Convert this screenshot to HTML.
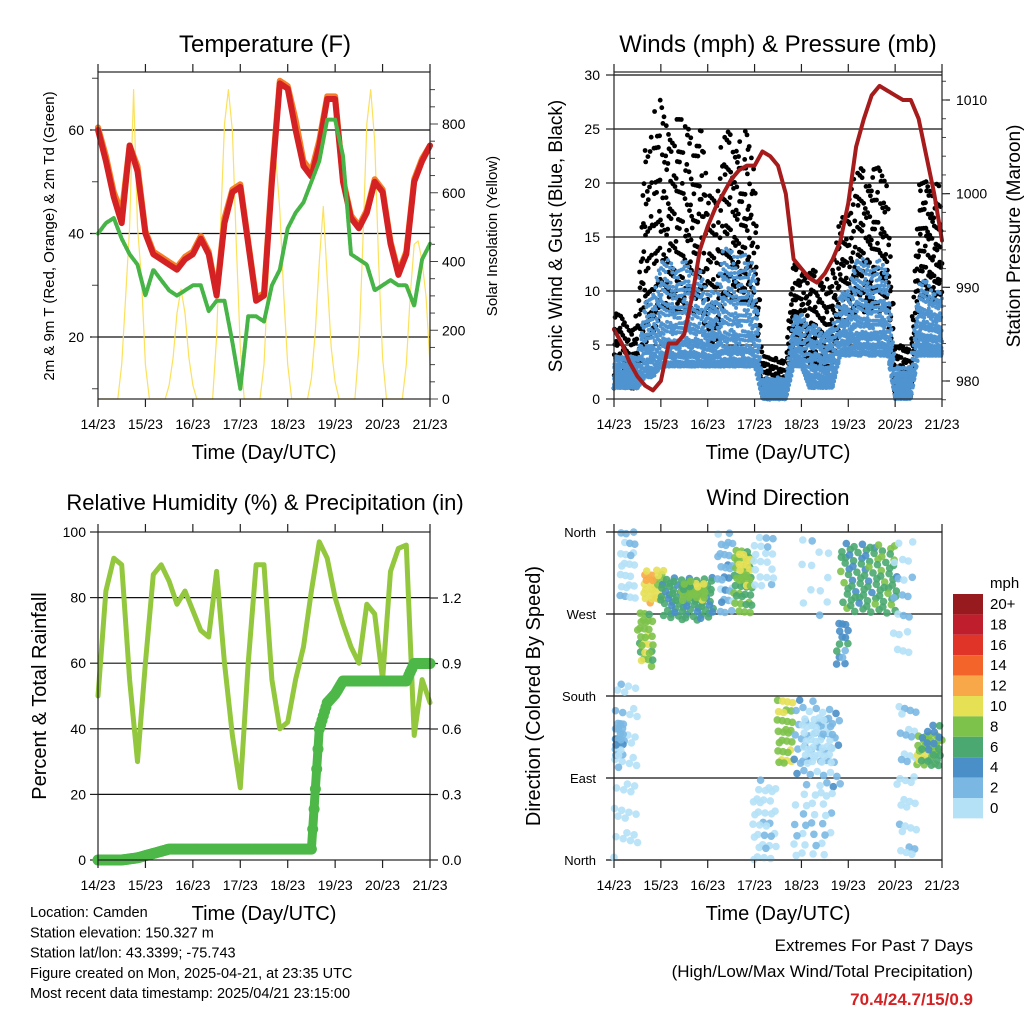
<!DOCTYPE html>
<html><head><meta charset="utf-8"><style>
html,body{margin:0;padding:0;background:#fff;}
svg{display:block;font-family:"Liberation Sans",sans-serif;}
</style></head><body>
<svg id="c" width="1024" height="1024" viewBox="0 0 1024 1024"></svg>
<script>
// ---------- DATA (4-hour resolution, 43 points from 14/23 to 21/23) ----------
const dayLabels = ["14/23","15/23","16/23","17/23","18/23","19/23","20/23","21/23"];
const tempRed = [60,54,47,42,57,52,40,36,35,34,33,35,36,39,36,28,42,48,49,38,27,28,50,69,68,60,53,51,57,66,66,50,43,41,44,50,48,38,32,36,50,54,57];
const tempOrange = [60.5,55,48,44,57,53,40.5,36.5,35.5,34.5,33.5,35.5,36.5,39.5,36.5,28.5,43,48.5,49.5,38.5,27.5,28.5,51,69.5,68.5,62,54,52,58,66.5,66.5,50.5,43.5,41.5,44.5,50.5,48.5,38.5,32.5,36.5,50.5,54.5,57];
const dewGreen = [40,42,43,39,36,34,28,33,31,29,28,29,30,30,25,27,27,19,10,24,24,23,30,33,41,44,46,50,54,62,62,55,36,35,34,29,30,31,30,30,26,35,38];
// solar insolation, 2-hourly, per day offsets +10h..+26h
const solarDays = [
 [0,100,300,500,900,500,350,100,0],
 [0,40,120,250,320,250,120,40,0],
 [0,180,500,800,900,780,450,150,0],
 [0,100,350,600,700,550,300,100,0],
 [0,60,200,400,560,350,150,50,0],
 [0,150,450,800,900,750,400,120,0],
 [0,100,300,450,460,400,300,100]
];
const pressure = [985.5,984,982,980.5,979.5,979,980,984,984,985,989,994,996.5,998.5,1000,1001.5,1002.5,1003,1003,1004.5,1004,1003,1000,993,992,991,990.5,991.5,993,995,999,1005,1008,1010.5,1011.5,1011,1010.5,1010,1010,1008,1004,1000,995];
const windLo = [1,1,1,1,2,2,3,3,3,3,3,3,3,3,3,3,3,3,3,0,0,0,0,3,3,1,1,1,1,4,4,4,4,4,4,4,0,0,0,4,4,4,4];
const windHi = [4,4,4,4,9,10,13,13,12,13,12,12,10,10,14,14,13,14,12,2,2,2,2,8,8,7,7,6,7,10,10,13,13,12,13,12,3,3,3,11,11,10,10];
const gustLo = [1,1,1,1,5,6,8,8,8,8,8,8,5,5,9,9,9,9,8,0,0,0,0,5,5,3,3,3,3,7,7,8,8,8,8,8,0,0,0,9,9,9,9];
const gustHi = [8,8,7,8,24,27,28,26,26,27,25,26,20,20,25,25,24,25,22,4,4,4,4,13,13,12,12,11,12,18,18,22,22,21,22,21,5,5,5,20,21,20,20];
const rh = [50,82,92,90,55,30,60,87,90,85,78,82,76,70,68,88,60,38,22,60,90,90,55,40,42,55,65,82,97,92,80,72,65,60,78,75,55,88,95,96,38,55,48];
const precip = [0,0,0,0,0.005,0.01,0.02,0.03,0.04,0.05,0.05,0.05,0.05,0.05,0.05,0.05,0.05,0.05,0.05,0.05,0.05,0.05,0.05,0.05,0.05,0.05,0.05,0.05,0.6,0.72,0.76,0.82,0.82,0.82,0.82,0.82,0.82,0.82,0.82,0.82,0.9,0.9,0.9];
// wind-direction clusters: [hourStart, hourEnd, dirLow, dirHigh, speedMph, dotCount]
const dirClusters = [
 [0,13,3,195,1,40],[0,5,110,150,3,20],[3,12,278,360,1.5,25],
 [12,20,212,271,9,30],[15,27,282,318,11,30],[24,51,263,310,6.5,80],[34,48,285,306,9,25],
 [53,61,271,359,3,30],[61,71,271,340,8,40],[63,70,300,340,10.5,15],
 [71,83,300,360,1,20],[71,83,0,88,1,35],[83,92,106,183,9.5,30],[92,116,80,176,3,50],
 [95,112,106,161,1,40],[92,112,3,80,1.5,30],[95,112,263,359,1,12],
 [114,120,212,263,5,15],[116,145,271,348,7,90],[143,153,220,359,1.5,20],[145,155,0,179,1.5,35],
 [155,168,102,139,9,30],[156,168,105,150,6,15]
];
const speedColors = ["#b5e1f7","#7ab8e3","#4a8fc8","#4aa870","#7dc24a","#e6e055","#f8a848","#f26429","#e03428","#bf1e2d","#971b1e"];
const speedLabels = ["0","2","4","6","8","10","12","14","16","18","20+"];

// ---------- helpers ----------
const NS="http://www.w3.org/2000/svg";
const svg=document.getElementById('c');
function el(tag, parent){const e=document.createElementNS(NS,tag);(parent||svg).appendChild(e);return e;}
function txt(s,x,y,size,anchor,name,extra){
  const t=el('text');t.textContent=s;t.setAttribute('x',x);t.setAttribute('y',y);
  t.setAttribute('font-size',size);t.setAttribute('text-anchor',anchor||'middle');
  if(extra){for(const k in extra)t.setAttribute(k,extra[k]);}
  
  
  return t;}
function line(x1,y1,x2,y2,stroke,w,name){
  const l=el('line');l.setAttribute('x1',x1);l.setAttribute('y1',y1);l.setAttribute('x2',x2);l.setAttribute('y2',y2);
  l.setAttribute('stroke',stroke);l.setAttribute('stroke-width',w);
  
  
  return l;}
function dot(x,y,r,fill,name,op){
  const c=el('circle');c.setAttribute('cx',x.toFixed(1));c.setAttribute('cy',y.toFixed(1));c.setAttribute('r',r);c.setAttribute('fill',fill);
  if(op)c.setAttribute('fill-opacity',op);
  
  
  return c;}
function poly(pts,stroke,w,name){
  const p=el('polyline');p.setAttribute('points',pts.map(q=>q[0].toFixed(1)+','+q[1].toFixed(1)).join(' '));
  p.setAttribute('fill','none');p.setAttribute('stroke',stroke);p.setAttribute('stroke-width',w);
  p.setAttribute('stroke-linejoin','round');p.setAttribute('stroke-linecap','round');
  
  
  return p;}
function frac(v){return v-Math.floor(v);}
function scale(d0,d1,r0,r1){return v=>r0+(v-d0)/(d1-d0)*(r1-r0);}
const STEP=4; // hours per data point

function panelFrame(P,name){
  const r=el('rect');r.setAttribute('x',P.x0);r.setAttribute('y',P.y0);r.setAttribute('width',P.x1-P.x0);r.setAttribute('height',P.y1-P.y0);
  r.setAttribute('fill','none');r.setAttribute('stroke','#222');r.setAttribute('stroke-width',1.2);
  
  
  const xs=scale(0,168,P.x0,P.x1);
  dayLabels.forEach((d,i)=>{const x=xs(i*24);
    line(x,P.y1,x,P.y1+8,'#222',1.2,'x-tick');line(x,P.y0,x,P.y0-8,'#222',1.2,'x-tick-top');
    txt(d,x,P.y1+30,14,'middle','x-tick-label');});
  txt('Time (Day/UTC)',(P.x0+P.x1)/2,P.y1+60,20,'middle','x-axis-title');
  return xs;}

// ---------- PANEL 1: Temperature ----------
(function(){
 const P={x0:98,x1:430,y0:72,y1:399};
 const ys=scale(20,60,337,130), yr=scale(0,800,399,124);
 const xs=scale(0,168,P.x0,P.x1);
 [20,40,60].forEach(v=>{line(P.x0-8,ys(v),P.x1,ys(v),'#111',1.2,'grid-line');txt(String(v),P.x0-14,ys(v)+5,14,'end','y-tick-label');});
 for(let v=10;v<=70;v+=10){line(P.x0-6,ys(v),P.x0,ys(v),'#444',1,'y-minor-tick');}
 for(let v=0;v<=900;v+=50){line(P.x1,yr(v),P.x1+(v%200===0?8:5),yr(v),'#444',1,'y2-tick');}
 [0,200,400,600,800].forEach(v=>txt(String(v),P.x1+12,yr(v)+5,14,'start','y2-tick-label'));
 const sp=[];
 solarDays.forEach((d,di)=>{d.forEach((v,k)=>{const h=di*24+10+k*2;if(h<=168)sp.push([xs(h),yr(v)]);});});
 const solarPts=[[xs(0),yr(0)]].concat(sp);
 poly(solarPts,'#fbe15c',1.2,'solar-insolation-line');
 poly(tempOrange.map((v,i)=>[xs(i*STEP),ys(v)]),'#f57f29',6,'temp-9m-orange-line');
 poly(tempRed.map((v,i)=>[xs(i*STEP),ys(v)]),'#d42224',6,'temp-2m-red-line');
 poly(dewGreen.map((v,i)=>[xs(i*STEP),ys(v)]),'#46b446',4,'dewpoint-green-line').setAttribute('stroke-dasharray','3 1.5');
 panelFrame(P,'temperature-plot-frame');
 txt('Temperature (F)',265,52,24,'middle','temperature-title');
 txt('2m & 9m T (Red, Orange) & 2m Td (Green)',0,0,15,'middle','temperature-y-axis-title',{transform:'translate(54,236) rotate(-90)'});
 txt('Solar Insolation (Yellow)',0,0,15,'middle','solar-y-axis-title',{transform:'translate(497,236) rotate(-90)'});
})();

// ---------- PANEL 2: Winds & Pressure ----------
(function(){
 const P={x0:614,x1:942,y0:72,y1:399};
 const ys=scale(0,30,399,75), yp=scale(980,1010,381,100);
 const xs=scale(0,168,P.x0,P.x1);
 [5,10,15,20,25,30].forEach(v=>line(P.x0,ys(v),P.x1,ys(v),'#111',1.2,'grid-line'));
 [0,5,10,15,20,25,30].forEach(v=>{line(P.x0-8,ys(v),P.x0,ys(v),'#222',1.2,'y-tick');txt(String(v),P.x0-14,ys(v)+5,14,'end','y-tick-label');});
 [980,990,1000,1010].forEach(v=>{line(P.x1,yp(v),P.x1+8,yp(v),'#222',1.2,'y2-tick');txt(String(v),P.x1+14,yp(v)+5,14,'start','y2-tick-label');});
 for(let v=978;v<=1012;v+=2){line(P.x1,yp(v),P.x1+4,yp(v),'#444',1,'y2-minor-tick');}
 const n=gustLo.length;
 for(let i=0;i<n-1;i++){const N=34;for(let k=0;k<N;k++){const t=frac(k*0.7548777+i*0.31);
   const lo=gustLo[i]+(gustLo[i+1]-gustLo[i])*t, hi=gustHi[i]+(gustHi[i+1]-gustHi[i])*t;
   const v=lo+(hi-lo)*Math.pow(frac(k*0.5698403+i*0.377),1.4);
   dot(xs((i+t)*STEP),ys(v),2.4,'#000','gust-point');}}
 for(let i=0;i<n-1;i++){const N=70;for(let k=0;k<N;k++){const t=frac(k*0.7548777+i*0.17);
   const lo=windLo[i]+(windLo[i+1]-windLo[i])*t, hi=windHi[i]+(windHi[i+1]-windHi[i])*t;
   const v=lo+(hi-lo)*Math.pow(frac(k*0.5698403+i*0.291),1.7);
   dot(xs((i+t)*STEP),ys(v),2,'#4f94d0','sustained-wind-point');}}
 poly(pressure.map((v,i)=>[xs(i*STEP),yp(v)]),'#a61c1c',4,'pressure-maroon-line');
 panelFrame(P,'winds-plot-frame');
 txt('Winds (mph) & Pressure (mb)',778,52,24,'middle','winds-title');
 txt('Sonic Wind & Gust (Blue, Black)',0,0,19,'middle','winds-y-axis-title',{transform:'translate(562,236) rotate(-90)'});
 txt('Station Pressure (Maroon)',0,0,19,'middle','pressure-y-axis-title',{transform:'translate(1020,236) rotate(-90)'});
})();

// ---------- PANEL 3: RH & Precip ----------
(function(){
 const P={x0:98,x1:430,y0:532,y1:860};
 const ys=scale(0,100,860,532), yr=scale(0,1.2,860,598);
 const xs=scale(0,168,P.x0,P.x1);
 [20,40,60,80].forEach(v=>line(P.x0,ys(v),P.x1,ys(v),'#111',1.2,'grid-line'));
 [0,20,40,60,80,100].forEach(v=>{line(P.x0-8,ys(v),P.x0,ys(v),'#222',1.2,'y-tick');txt(String(v),P.x0-12,ys(v)+5,14,'end','y-tick-label');});
 [0,0.3,0.6,0.9,1.2].forEach(v=>{line(P.x1,yr(v),P.x1+8,yr(v),'#222',1.2,'y2-tick');txt(v.toFixed(1),P.x1+12,yr(v)+5,14,'start','y2-tick-label');});
 poly(rh.map((v,i)=>[xs(i*STEP),ys(v)]),'#93c83e',5,'relative-humidity-line');
 const pp=precip.map((v,i)=>[xs(i*STEP),yr(v)]);
 poly(pp,'#4db848',9,'precipitation-line');
 for(let i=0;i<precip.length-1;i++){const N=6;for(let k=0;k<N;k++){const t=k/N;
   dot(xs((i+t)*STEP),yr(precip[i]+(precip[i+1]-precip[i])*t),5.5,'#4db848','precipitation-point');}}
 dot(xs(168),yr(precip[precip.length-1]),5.5,'#4db848','precipitation-point');
 panelFrame(P,'humidity-plot-frame');
 txt('Relative Humidity (%) & Precipitation (in)',265,510,22,'middle','humidity-title');
 txt('Percent & Total Rainfall',0,0,20,'middle','humidity-y-axis-title',{transform:'translate(46,696) rotate(-90)'});
})();

// ---------- PANEL 4: Wind Direction ----------
(function(){
 const P={x0:614,x1:942,y0:532,y1:860};
 const ys=scale(0,360,860,532);
 const xs=scale(0,168,P.x0,P.x1);
 const names=["North","East","South","West","North"];
 [0,90,180,270,360].forEach((v,i)=>{line(P.x0-8,ys(v),P.x1,ys(v),'#111',1.2,'grid-line');txt(names[i],P.x0-18,ys(v)+5,13,'end','direction-tick-label');});
 dirClusters.forEach((c,ci)=>{const N=c[5];for(let k=0;k<N;k++){
   const h=c[0]+(c[1]-c[0])*frac(k*0.7548777+ci*0.13);
   const d=c[2]+(c[3]-c[2])*frac(k*0.5698403+ci*0.29);
   const s=Math.max(0,c[4]+(frac(k*0.4142136+ci*0.21)-0.5)*3);
   const idx=Math.min(10,Math.floor(s/2));
   dot(xs(h),ys(d),3.8,speedColors[idx],'wind-direction-point',0.9);}});
 panelFrame(P,'wind-direction-plot-frame');
 txt('Wind Direction',778,505,22,'middle','wind-direction-title');
 txt('Direction (Colored By Speed)',0,0,20,'middle','wind-direction-y-axis-title',{transform:'translate(540,696) rotate(-90)'});
 txt('mph',990,588,15,'start','colorbar-title');
 speedColors.slice().reverse().forEach((col,i)=>{
   const r=el('rect');r.setAttribute('x',953);r.setAttribute('y',594+i*20.4);r.setAttribute('width',30);r.setAttribute('height',20.4);r.setAttribute('fill',col);
   
   
   txt(speedLabels[10-i],990,594+i*20.4+15,15,'start','colorbar-label');});
})();

// ---------- footer text ----------
const info=["Location: Camden","Station elevation: 150.327 m","Station lat/lon: 43.3399; -75.743","Figure created on Mon, 2025-04-21, at 23:35 UTC","Most recent data timestamp: 2025/04/21 23:15:00"];
info.forEach((s,i)=>txt(s,30,917+i*20.3,14.5,'start','station-info-line'));
txt('Extremes For Past 7 Days',973,951,17,'end','extremes-heading');
txt('(High/Low/Max Wind/Total Precipitation)',973,977,17,'end','extremes-subheading');
txt('70.4/24.7/15/0.9',973,1005,17,'end','extremes-values',{fill:'#d42224','font-weight':'bold'});
</script>
</body></html>
